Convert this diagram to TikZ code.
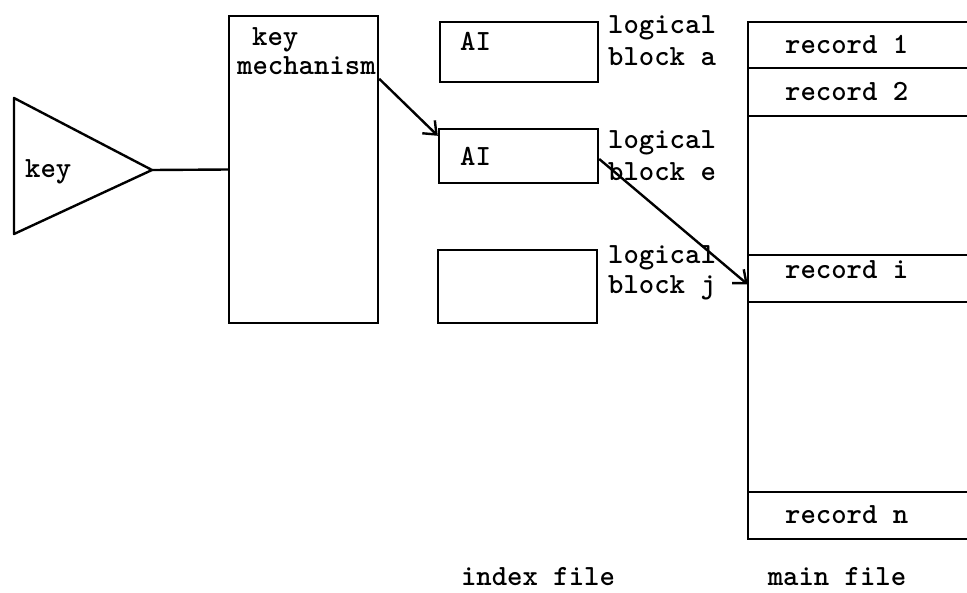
\documentclass[tikz,border=0pt]{standalone}
\usepackage{fontspec}
\usetikzlibrary{arrows.meta,calc}
\begin{document}
\begin{tikzpicture}[x=1pt,y=-1pt,
  ln/.style={line width=2.4pt},
  boxn/.style={draw,ln,inner sep=0pt},
  txt/.style={anchor=base west,inner sep=0pt,font=\fontsize{29.3}{34}\ttfamily\bfseries},
  arr/.style={ln,-{Straight Barb[length=11pt,width=18pt,line width=2.4pt]}},
  strip/.style={inner sep=0pt,minimum width=219pt}
]
\useasboundingbox (0,0) rectangle (967,592);
% key triangle
\coordinate (tt) at (14,98);
\coordinate (tb) at (14,234);
\coordinate (apex) at (152,170);
\draw[ln,line join=round] (tt) -- (apex) -- (tb) -- cycle;
\node[txt] (keyl) at (25,177) {key};
% key mechanism
\node[boxn,minimum width=149pt,minimum height=307pt] (km) at (303.5,169.5) {};
\node[txt] (kml1) at (252,45) {key};
\node[txt] (kml2) at (237,74) {mechanism};
\draw[ln] (apex) -- (km.west);
% index file blocks
\node[boxn,minimum width=158pt,minimum height=60pt] (bla) at (519,52) {};
\node[boxn,minimum width=159pt,minimum height=54pt] (ble) at (518.5,156) {};
\node[boxn,minimum width=159pt,minimum height=73pt] (blj) at (517.5,286.5) {};
\node[txt] (aia) at (460,50) {AI};
\node[txt] (aie) at (460,165) {AI};
\node[txt] (la1) at (608,33) {logical};
\node[txt] (la2) at (608,65) {block a};
\node[txt] (le1) at (608,148) {logical};
\node[txt] (le2) at (608,180) {block e};
\node[txt] (lj1) at (608,263) {logical};
\node[txt] (lj2) at (608,293) {block j};
\node[txt,anchor=base] (idx) at (538,585) {index file};
% main file
\node[strip,minimum height=46pt] (r1) at (857.5,45) {};
\node[strip,minimum height=48pt] (r2) at (857.5,92) {};
\node[strip,minimum height=139pt] (g1) at (857.5,185.5) {};
\node[strip,minimum height=47pt] (ri) at (857.5,278.5) {};
\node[strip,minimum height=190pt] (g2) at (857.5,397) {};
\node[strip,minimum height=47pt] (rn) at (857.5,515.5) {};
\draw[ln] (r1.north east) -- (r1.north west) -- (rn.south west) -- (rn.south east);
\draw[ln] (r1.south west) -- (r1.south east);
\draw[ln] (r2.south west) -- (r2.south east);
\draw[ln] (ri.north west) -- (ri.north east);
\draw[ln] (ri.south west) -- (ri.south east);
\draw[ln] (rn.north west) -- (rn.north east);
\node[txt] (t1) at (785,53) {record 1};
\node[txt] (t2) at (785,100) {record 2};
\node[txt] (ti) at (785,278) {record i};
\node[txt] (tn) at (785,523) {record n};
\node[txt,anchor=base] (mf) at (837,585) {main file};
% arrows
\draw[arr] ([yshift=-64pt]km.north east) -- ([yshift=-8pt]ble.north west);
\draw[arr] ([yshift=-3pt]ble.east) -- ([yshift=-6pt]ri.west);
\end{tikzpicture}
\end{document}
